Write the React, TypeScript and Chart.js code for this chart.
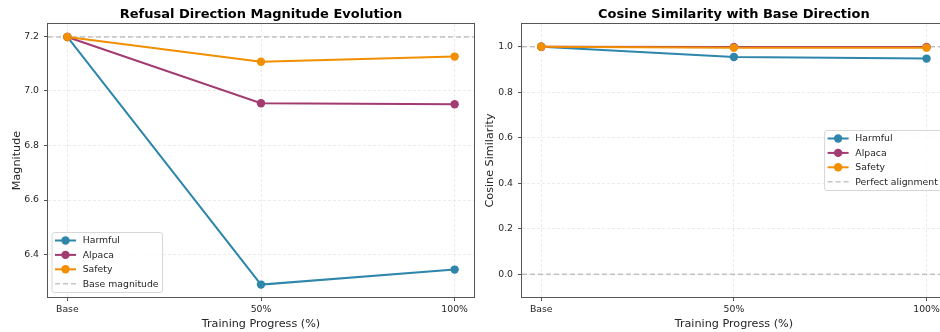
import React, { useEffect, useRef } from "react";
import { Chart, registerables } from "chart.js";

Chart.register(...registerables);

// ---------------- data ----------------
const categories = ["Base", "50%", "100%"];
const progress = [0, 1, 2];

const magnitudeHarmful = [7.198, 6.29, 6.345];
const magnitudeAlpaca = [7.198, 6.955, 6.951];
const magnitudeSafety = [7.198, 7.107, 7.126];
const baseMagnitude = 7.198;
const magnitudeTicks = [6.4, 6.6, 6.8, 7.0, 7.2];

const cosineHarmful = [1.0, 0.955, 0.948];
const cosineAlpaca = [1.0, 0.999, 0.999];
const cosineSafety = [1.0, 0.996, 0.996];
const perfectAlignment = 1.0;
const orthogonalLevel = 0.0;
const cosineTicks = [0.0, 0.2, 0.4, 0.6, 0.8, 1.0];

const seriesNames = ["Harmful", "Alpaca", "Safety"];
const seriesColors = ["#2E86AB", "#A23B72", "#F18F01"];
const refColor = "rgba(128,128,128,0.45)";

const FONT = "'DejaVu Sans', sans-serif";
const TEXT = "#262626";
const SPINE = "#555555";

type LegendItem = { label: string; color: string; dashed?: boolean };

function toPts(vals: number[]) {
  return vals.map((v, i) => ({ x: progress[i], y: v }));
}
function hline(y: number) {
  return [
    { x: -0.1, y },
    { x: 2.1, y },
  ];
}

function makeDecor(
  title: string,
  yLabel: string,
  yLabelX: number,
  legendItems: LegendItem[],
  legendPos: "lowerleft" | "centerright"
) {
  return {
    id: "decor",
    afterDraw(chart: any) {
      const ctx = chart.ctx as CanvasRenderingContext2D;
      const a = chart.chartArea;
      ctx.save();
      // spines
      ctx.strokeStyle = SPINE;
      ctx.lineWidth = 1;
      ctx.setLineDash([]);
      ctx.strokeRect(
        Math.round(a.left) - 0.5,
        Math.round(a.top) - 0.5,
        Math.round(a.right - a.left) + 1,
        Math.round(a.bottom - a.top) + 1
      );
      // title
      ctx.fillStyle = "#000";
      ctx.font = `bold 13px ${FONT}`;
      ctx.textAlign = "center";
      ctx.textBaseline = "alphabetic";
      ctx.fillText(title, (a.left + a.right) / 2, 18);
      // x label
      ctx.fillStyle = TEXT;
      ctx.font = `11.2px ${FONT}`;
      ctx.fillText("Training Progress (%)", (a.left + a.right) / 2, 326.5);
      // y label
      ctx.save();
      ctx.translate(yLabelX, (a.top + a.bottom) / 2);
      ctx.rotate(-Math.PI / 2);
      ctx.textBaseline = "middle";
      ctx.fillText(yLabel, 0, 0);
      ctx.restore();

      // legend
      ctx.font = `9.3px ${FONT}`;
      let maxW = 0;
      legendItems.forEach((it) => {
        maxW = Math.max(maxW, ctx.measureText(it.label).width);
      });
      const rowH = 14.4;
      const boxW = 30.7 + maxW + 4;
      const boxH = rowH * legendItems.length + 2.4;
      let bx: number, by: number;
      if (legendPos === "lowerleft") {
        bx = a.left + 4;
        by = a.bottom - 4.5 - boxH;
      } else {
        bx = a.right - 4 - boxW;
        by = (a.top + a.bottom) / 2 - boxH / 2;
      }
      ctx.beginPath();
      const r = 2.5;
      ctx.moveTo(bx + r, by);
      ctx.lineTo(bx + boxW - r, by);
      ctx.quadraticCurveTo(bx + boxW, by, bx + boxW, by + r);
      ctx.lineTo(bx + boxW, by + boxH - r);
      ctx.quadraticCurveTo(bx + boxW, by + boxH, bx + boxW - r, by + boxH);
      ctx.lineTo(bx + r, by + boxH);
      ctx.quadraticCurveTo(bx, by + boxH, bx, by + boxH - r);
      ctx.lineTo(bx, by + r);
      ctx.quadraticCurveTo(bx, by, bx + r, by);
      ctx.closePath();
      ctx.fillStyle = "rgba(255,255,255,0.8)";
      ctx.fill();
      ctx.strokeStyle = "#d6d6d6";
      ctx.lineWidth = 1;
      ctx.stroke();
      legendItems.forEach((it, i) => {
        const cy = by + 8 + i * rowH;
        ctx.beginPath();
        ctx.strokeStyle = it.color;
        ctx.lineWidth = it.dashed ? 1.5 : 2;
        ctx.setLineDash(it.dashed ? [5, 3] : []);
        ctx.moveTo(bx + 3, cy);
        ctx.lineTo(bx + 24, cy);
        ctx.stroke();
        ctx.setLineDash([]);
        if (!it.dashed) {
          ctx.beginPath();
          ctx.fillStyle = it.color;
          ctx.arc(bx + 13.5, cy, 4.2, 0, Math.PI * 2);
          ctx.fill();
        }
        ctx.fillStyle = TEXT;
        ctx.textAlign = "left";
        ctx.textBaseline = "middle";
        ctx.fillText(it.label, bx + 30.7, cy + 0.5);
      });
      ctx.restore();
    },
  };
}

function makeConfig(opts: {
  series: number[][];
  refLines: number[];
  yMin: number;
  yMax: number;
  yTicks: number[];
  yDigits: number;
  yAxisWidth: number;
  padRight: number;
  decor: any;
}) {
  const datasets: any[] = opts.series.map((vals, i) => ({
    label: seriesNames[i],
    data: toPts(vals),
    borderColor: seriesColors[i],
    backgroundColor: seriesColors[i],
    borderWidth: 2,
    pointRadius: 4.2,
    pointBorderWidth: 0,
    pointHoverRadius: 4.2,
    order: 10 - i,
    tension: 0,
  }));
  opts.refLines.forEach((y, k) => {
    datasets.push({
      label: "ref" + k,
      data: hline(y),
      borderColor: refColor,
      borderWidth: 1.5,
      borderDash: [5, 3],
      pointRadius: 0,
      order: 20 + k,
    });
  });
  return {
    type: "line",
    data: { datasets },
    options: {
      animation: false,
      responsive: false,
      events: [],
      layout: { padding: { top: 24, right: opts.padRight, left: 0, bottom: 0 } },
      plugins: { legend: { display: false }, title: { display: false }, tooltip: { enabled: false } },
      scales: {
        x: {
          type: "linear",
          min: -0.1,
          max: 2.1,
          afterBuildTicks: (s: any) => {
            s.ticks = progress.map((v) => ({ value: v }));
          },
          afterFit: (s: any) => {
            s.height = 35;
          },
          ticks: {
            callback: (v: any) => categories[Math.round(v)] ?? "",
            font: { family: FONT, size: 9.3 },
            color: TEXT,
            padding: 3,
            maxRotation: 0,
            autoSkip: false,
          },
          grid: { color: "#e6e6e6", lineWidth: 0.8, tickColor: SPINE, tickLength: 4, tickWidth: 1 },
          border: { display: false, dash: [3, 2] },
        },
        y: {
          type: "linear",
          min: opts.yMin,
          max: opts.yMax,
          afterBuildTicks: (s: any) => {
            s.ticks = opts.yTicks.map((v) => ({ value: v }));
          },
          afterFit: (s: any) => {
            s.width = opts.yAxisWidth;
          },
          ticks: {
            callback: (v: any) => Number(v).toFixed(opts.yDigits),
            font: { family: FONT, size: 9.3 },
            color: TEXT,
            padding: 5,
            autoSkip: false,
          },
          grid: { color: "#e6e6e6", lineWidth: 0.8, tickColor: SPINE, tickLength: 4, tickWidth: 1 },
          border: { display: false, dash: [3, 2] },
        },
      },
    },
    plugins: [opts.decor],
  } as any;
}

export default function App() {
  const leftRef = useRef<HTMLCanvasElement>(null);
  const rightRef = useRef<HTMLCanvasElement>(null);

  useEffect(() => {
    const left = new Chart(
      leftRef.current!,
      makeConfig({
        series: [magnitudeHarmful, magnitudeAlpaca, magnitudeSafety],
        refLines: [baseMagnitude],
        yMin: 6.2445,
        yMax: 7.2455,
        yTicks: magnitudeTicks,
        yDigits: 1,
        yAxisWidth: 48,
        padRight: 6,
        decor: makeDecor(
          "Refusal Direction Magnitude Evolution",
          "Magnitude",
          16.7,
          [
            ...seriesNames.map((n, i) => ({ label: n, color: seriesColors[i] })),
            { label: "Base magnitude", color: refColor, dashed: true },
          ],
          "lowerleft"
        ),
      })
    );
    const right = new Chart(
      rightRef.current!,
      makeConfig({
        series: [cosineHarmful, cosineAlpaca, cosineSafety],
        refLines: [perfectAlignment, orthogonalLevel],
        yMin: -0.1,
        yMax: 1.1,
        yTicks: cosineTicks,
        yDigits: 1,
        yAxisWidth: 52,
        padRight: 2,
        decor: makeDecor(
          "Cosine Similarity with Base Direction",
          "Cosine Similarity",
          20,
          [
            ...seriesNames.map((n, i) => ({ label: n, color: seriesColors[i] })),
            { label: "Perfect alignment", color: refColor, dashed: true },
          ],
          "centerright"
        ),
      })
    );
    return () => {
      left.destroy();
      right.destroy();
    };
  }, []);

  return (
    <div
      style={{
        position: "fixed",
        left: 0,
        top: 0,
        width: 940,
        height: 332,
        overflow: "hidden",
        background: "#ffffff",
      }}
    >
      <canvas
        ref={leftRef}
        width={480}
        height={332}
        style={{ position: "absolute", left: 0, top: 0, width: 480, height: 332 }}
      />
      <canvas
        ref={rightRef}
        width={480}
        height={332}
        style={{ position: "absolute", left: 470, top: 0, width: 480, height: 332 }}
      />
    </div>
  );
}
